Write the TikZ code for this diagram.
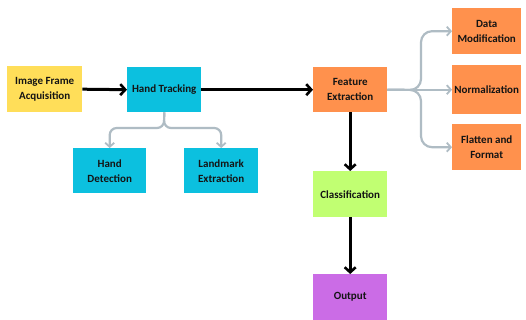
\documentclass[tikz,border=0pt]{standalone}
\usepackage{fontspec}
\setmainfont{Carlito}
\usetikzlibrary{arrows.meta}
\definecolor{cyel}{HTML}{FFDE59}
\definecolor{ccya}{HTML}{0CC0DF}
\definecolor{cora}{HTML}{FF914D}
\definecolor{cgrn}{HTML}{C1FF72}
\definecolor{cpur}{HTML}{CB6CE6}
\definecolor{cgry}{HTML}{AFBCC4}
\definecolor{ctxt}{HTML}{141414}
\begin{document}
\begin{tikzpicture}[x=1pt,y=-1pt,
  box/.style={draw=none,anchor=north west,minimum width=#1,inner sep=0pt,
    align=center,font=\bfseries\fontsize{11}{15}\selectfont,text=ctxt},
  blk/.style={line width=3pt,black,-{Straight Barb[length=5pt,width=11pt,line width=2.6pt]}},
  gry/.style={line width=2.2pt,cgry,rounded corners=11pt,-{Straight Barb[length=4pt,width=9pt,line width=1.8pt]}}]
\useasboundingbox (0,0) rectangle (526,320);
\fill[white] (0,0) rectangle (526,320);
% boxes
\fill[cyel] (7,66) rectangle (82,112);
\node (ifa) [box=75pt, minimum height=46pt] at (7,66) {Image Frame\\Acquisition};
\fill[ccya] (127,67) rectangle (201,112);
\node (ht) [box=74pt, minimum height=45pt] at (127,67) {Hand Tracking};
\fill[ccya] (73,148) rectangle (146,193);
\node (hd) [box=73pt, minimum height=45pt] at (73,148) {Hand\\Detection};
\fill[ccya] (184,148) rectangle (258,193);
\node (le) [box=74pt, minimum height=45pt] at (184,148) {Landmark\\Extraction};
\fill[cora] (313,67) rectangle (387,112);
\node (fe) [box=74pt, minimum height=45pt] at (313,67) {Feature\\Extraction};
\fill[cora] (452,8) rectangle (521,54);
\node (dm) [box=69pt, minimum height=46pt] at (452,8) {Data\\Modification};
\fill[cora] (452,65) rectangle (521,114);
\node (nm) [box=69pt, minimum height=49pt] at (452,65) {Normalization};
\fill[cora] (452,124) rectangle (521,170);
\node (ff) [box=69pt, minimum height=46pt] at (452,124) {Flatten and\\Format};
\fill[cgrn] (313,171) rectangle (387,217);
\node (cl) [box=74pt, minimum height=46pt] at (313,171) {Classification};
\fill[cpur] (313,274) rectangle (387,320);
\node (op) [box=74pt, minimum height=46pt] at (313,274) {Output};
% black arrows
\draw[blk] (ifa.east) -- (ht.west);
\draw[blk] (ht.east) -- (fe.west);
\draw[blk] (fe.south) -- (cl.north);
\draw[blk] (cl.south) -- (op.north);
% gray trees
\coordinate (hts) at (164,128);
\draw[gry,rounded corners=7pt] (ht.south) -- (hts) -| (hd.north);
\draw[gry,rounded corners=7pt] (ht.south) -- (hts) -| (le.north);
\coordinate (fes) at (421,90);
\draw[gry] (fe.east) -- (fes) |- (dm.west);
\draw[gry] (fe.east) -- (nm.west |- fe.east);
\draw[gry] (fe.east) -- (fes) |- (ff.west);
\end{tikzpicture}
\end{document}
